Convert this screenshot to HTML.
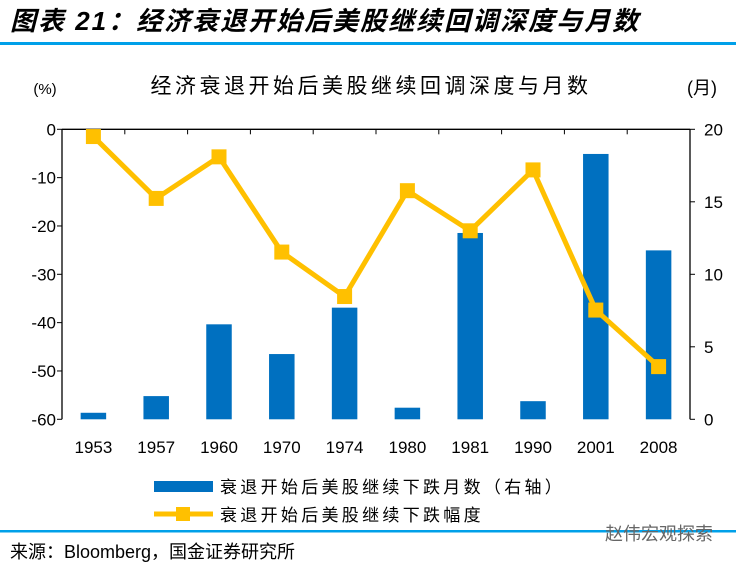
<!DOCTYPE html>
<html><head><meta charset="utf-8"><style>
body{margin:0;background:#fff;width:736px;height:566px;overflow:hidden;font-family:"Liberation Sans","Noto Sans CJK SC",sans-serif;}
</style></head><body>
<svg id="c" width="736" height="566" xmlns="http://www.w3.org/2000/svg">
<text x="10" y="30" font-size="26" font-style="italic" font-weight="bold" fill="#000" letter-spacing="2">图表 21：经济衰退开始后美股继续回调深度与月数</text>
<rect x="0" y="42" width="736" height="3" fill="#00a0e9"/>
<text x="371" y="93" font-size="21" text-anchor="middle" fill="#000" letter-spacing="3.5">经济衰退开始后美股继续回调深度与月数</text>
<text x="45" y="94" font-size="15" text-anchor="middle" fill="#000">(%)</text>
<text x="702" y="94" font-size="18" text-anchor="middle" fill="#000">(月)</text>
<g id="plot"></g>
<rect x="154" y="481" width="59" height="11" fill="#0070c0"/>
<text x="220" y="493" font-size="17" fill="#000" letter-spacing="3.3">衰退开始后美股继续下跌月数（右轴）</text>
<line x1="154" y1="514" x2="213" y2="514" stroke="#ffc000" stroke-width="5"/>
<rect x="176" y="507" width="14" height="14" fill="#ffc000"/>
<text x="220" y="521" font-size="17" fill="#000" letter-spacing="3.3">衰退开始后美股继续下跌幅度</text>
<rect x="0" y="530" width="736" height="2.5" fill="#00a0e9"/>
<text x="10" y="558" font-size="18" fill="#000">来源：Bloomberg，国金证券研究所</text>
<text x="605" y="540" font-size="18" fill="#666">赵伟宏观探索</text>
</svg>
<script>
const categories=["1953","1957","1960","1970","1974","1980","1981","1990","2001","2008"];
const months=[0.45,1.6,6.55,4.5,7.7,0.8,12.85,1.25,18.3,11.65];
const declines=[-1.5,-14.3,-5.7,-25.4,-34.6,-12.7,-21.0,-8.4,-37.4,-49.1];
const leftTicks=[0,-10,-20,-30,-40,-50,-60];
const rightTicks=[0,5,10,15,20];
const NS="http://www.w3.org/2000/svg";
const L=62,R=690,T=129.3,B=419.3;
const yL=v=>T+(0-v)/60*(B-T);
const yR=v=>B-v/20*(B-T);
const step=(R-L)/categories.length;
const xC=i=>L+step*(i+0.5);
const g=document.getElementById('plot');
function mk(t,a){const e=document.createElementNS(NS,t);for(const k in a)e.setAttribute(k,a[k]);g.appendChild(e);return e;}
months.forEach((m,i)=>{
 const e=mk('rect',{x:xC(i)-12.75,y:yR(m),width:25.5,height:B-yR(m),fill:'#0070c0'});
 
 
});
let a=mk('line',{x1:L,y1:T,x2:R,y2:T,stroke:'#000','stroke-width':1.3});

a=mk('line',{x1:L,y1:T,x2:L,y2:B,stroke:'#000','stroke-width':1.3});

a=mk('line',{x1:R,y1:T,x2:R,y2:B,stroke:'#000','stroke-width':1.3});

for(let i=0;i<=categories.length;i++){const x=L+step*i;const t=mk('line',{x1:x,y1:T,x2:x,y2:T+5,stroke:'#000'});
 }
leftTicks.forEach(v=>{const y=yL(v);
 const t=mk('line',{x1:L-5,y1:y,x2:L,y2:y,stroke:'#000'});
 
 const s=mk('text',{x:L-6,y:y+6,'font-size':17,'text-anchor':'end',fill:'#000'});s.textContent=v;
 });
rightTicks.forEach(v=>{const y=yR(v);
 const t=mk('line',{x1:R,y1:y,x2:R+5,y2:y,stroke:'#000'});
 
 const s=mk('text',{x:R+14,y:y+6,'font-size':17,fill:'#000'});s.textContent=v;
 });
categories.forEach((c,i)=>{const s=mk('text',{x:xC(i),y:453,'font-size':17,'text-anchor':'middle',fill:'#000'});s.textContent=c;
 });
const pl=mk('polyline',{points:declines.map((d,i)=>xC(i)+','+yL(d)).join(' '),fill:'none',stroke:'#ffc000','stroke-width':5,'stroke-linejoin':'round'});

declines.forEach((d,i)=>{const e=mk('rect',{x:xC(i)-7.5,y:yL(d)-7.5,width:15,height:15,fill:'#ffc000'});
 
 });
</script>
</body></html>
